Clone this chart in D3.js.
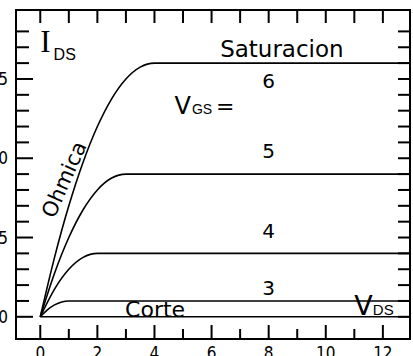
<!DOCTYPE html>
<html>
<head>
<meta charset="utf-8">
<script src="https://cdnjs.cloudflare.com/ajax/libs/d3/7.8.5/d3.min.js"></script>
<style>
  body { margin: 0; background: #fff; }
  svg { display: block; }
  .lbl { font-family: "DejaVu Sans", sans-serif; fill: #000; }
  .sub { font-family: "Liberation Sans", Arial, sans-serif; fill: #000; }
  .tick-lbl { font-family: "DejaVu Sans Condensed", "Liberation Sans Narrow", sans-serif; font-stretch: condensed; fill: #000; }
</style>
</head>
<body>
<div id="chart"></div>
<script>
// output characteristic of a mosfet
var vgsLevels = [6, 5, 4, 3, 2];
var vdsPoints = [
  [0, 0.5, 1, 1.5, 2, 2.5, 3, 3.5, 4, 13],
  [0, 0.5, 1, 1.5, 2, 2.5, 3, 13],
  [0, 0.5, 1, 1.5, 2, 13],
  [0, 0.25, 0.5, 0.75, 1, 13],
  [0, 13]
];
var idsPoints = [
  [0, 3.75, 7, 9.75, 12, 13.75, 15, 15.75, 16, 16],
  [0, 2.75, 5, 6.75, 8, 8.75, 9, 9],
  [0, 1.75, 3, 3.75, 4, 4],
  [0, 0.44, 0.75, 0.94, 1, 1],
  [0, 0]
];
// where the vgs numbers sit (ids units)
var vgsLabelY = [14.4, 10, 5, 1.4];
var xTickLabels = [0, 2, 4, 6, 8, 10, 12];
var yTickLabels = [0, 5, 10, 15];

var W = 413, H = 356;
var margin = {top: 10, left: 16, right: 3, bottom: 17},
    width  = W - margin.left - margin.right,
    height = H - margin.top  - margin.bottom;

var x = d3.scaleLinear().domain([-0.85, 12.95]).range([0, width]),
    y = d3.scaleLinear().domain([-1.4, 19.35]).range([height, 0]);

var svg = d3.select("#chart").append("svg")
    .attr("width", W)
    .attr("height", H);

var g = svg.append("g").attr("transform", "translate(" + margin.left + "," + margin.top + ")");

svg.append("defs").append("clipPath").attr("id", "plotclip")
  .append("rect").attr("width", width).attr("height", height);

// ticks, all pointing into the frame
var xt = d3.range(0, 13);
var yt = d3.range(0, 19);

g.selectAll(".xb").data(xt).enter().append("line")
    .attr("x1", d => x(d)).attr("x2", d => x(d))
    .attr("y1", height).attr("y2", d => height - (d % 2 === 0 ? 14 : 10))
    .attr("stroke", "#000").attr("stroke-width", 2);

g.selectAll(".xt").data(xt).enter().append("line")
    .attr("x1", d => x(d)).attr("x2", d => x(d))
    .attr("y1", 0).attr("y2", 13)
    .attr("stroke", "#000").attr("stroke-width", 2);

g.selectAll(".yl").data(yt).enter().append("line")
    .attr("y1", d => y(d)).attr("y2", d => y(d))
    .attr("x1", 0).attr("x2", d => (d % 5 === 0 ? 17 : 13))
    .attr("stroke", "#000").attr("stroke-width", 2);

g.selectAll(".yr").data(yt).enter().append("line")
    .attr("y1", d => y(d)).attr("y2", d => y(d))
    .attr("x1", width).attr("x2", width - 12)
    .attr("stroke", "#000").attr("stroke-width", 2);

// frame
g.append("rect")
    .attr("width", width).attr("height", height)
    .attr("fill", "none").attr("stroke", "#000").attr("stroke-width", 2);

// tick labels (partly cut by the page edge, like the original)
g.selectAll(".xlab").data(xTickLabels).enter().append("text")
    .attr("class", "tick-lbl")
    .attr("x", d => x(d)).attr("y", height + 20)
    .attr("text-anchor", "middle")
    .attr("font-size", 17)
    .text(d => d);

g.selectAll(".ylab").data(yTickLabels).enter().append("text")
    .attr("class", "tick-lbl")
    .attr("x", -8).attr("y", d => y(d) + 6)
    .attr("text-anchor", "end")
    .attr("font-size", 17)
    .text(d => d);

// curves
var line = d3.line()
    .x(d => x(d[0]))
    .y(d => y(d[1]))
    .curve(d3.curveMonotoneX);

var curves = vgsLevels.map(function(v, i) {
  return vdsPoints[i].map(function(vd, j) { return [vd, idsPoints[i][j]]; });
});

g.append("g").attr("clip-path", "url(#plotclip)")
  .selectAll("path").data(curves).enter().append("path")
    .attr("fill", "none")
    .attr("stroke", "#000")
    .attr("stroke-width", 1.6)
    .attr("d", line);

// labels on the curves
function lbl(txt, px, py, size) {
  return g.append("text").attr("class", "lbl")
    .attr("x", px).attr("y", py)
    .attr("font-size", size)
    .text(txt);
}

lbl("Saturacion", x(6.3), y(16) - 6, 23);
lbl("Corte", x(2.97), y(0), 22);
[6, 5, 4, 3].forEach(function(v, i) {
  lbl(v, x(8), y(vgsLabelY[i]), 20).attr("text-anchor", "middle");
});

g.append("text").attr("class", "lbl")
    .attr("font-size", 21)
    .attr("text-anchor", "middle")
    .attr("transform", "translate(" + x(1.06) + "," + y(8.48) + ") rotate(-66)")
    .text("Ohmica");

// I_DS
var ids = g.append("text").attr("x", x(0)).attr("y", y(16.7));
ids.append("tspan").attr("font-family", "Liberation Serif, serif").attr("font-size", 31).text("I");
ids.append("tspan").attr("class", "sub").attr("font-size", 16).attr("dx", 3).attr("dy", 8).text("DS");

// V_GS =
var vgs = g.append("text").attr("x", x(4.7)).attr("y", y(12.8));
vgs.append("tspan").attr("class", "lbl").attr("font-size", 24).text("V");
vgs.append("tspan").attr("class", "sub").attr("font-size", 14).attr("dx", 1).text("GS");
vgs.append("tspan").attr("class", "lbl").attr("font-size", 22).attr("dx", 4).text("=");

// V_DS
var vds = g.append("text").attr("x", x(11.0)).attr("y", y(0.1));
vds.append("tspan").attr("class", "lbl").attr("font-size", 27).text("V");
vds.append("tspan").attr("class", "sub").attr("font-size", 15).attr("dx", 0).text("DS");
</script>
</body>
</html>
